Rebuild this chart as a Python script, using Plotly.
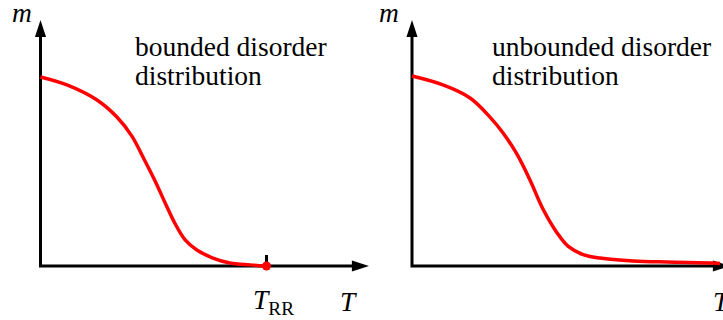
import plotly.graph_objects as go

# Order parameter m versus temperature T (T in units of T_RR, m in units of m(0))
T_bounded = [0.0, 0.117, 0.25, 0.338, 0.405, 0.454, 0.507, 0.551, 0.595, 0.639, 0.692,
             0.763, 0.838, 0.927, 1.0]
m_bounded = [1.0, 0.958, 0.878, 0.788, 0.686, 0.575, 0.45, 0.335, 0.225, 0.14, 0.085,
             0.042, 0.016, 0.006, 0.0]

T_unbounded = [0.0, 0.137, 0.257, 0.345, 0.403, 0.465, 0.522, 0.58, 0.642, 0.69, 0.757,
               0.832, 0.978, 1.128, 1.332, 1.363]
m_unbounded = [1.005, 0.958, 0.889, 0.788, 0.704, 0.59, 0.455, 0.3, 0.175, 0.105, 0.06,
               0.042, 0.027, 0.021, 0.016, 0.013]

T_RR = 1.0

panel_titles = [["bounded disorder", "distribution"],
                ["unbounded disorder", "distribution"]]

# geometry of the canvas
W, H = 723, 320
PX_T, PX_M = 226.0, 189.0          # pixels per unit of T and m
ORIGIN_Y = 266.0                    # pixel row of m = 0
ORIGIN_X = [40.5, 412.0]            # pixel column of T = 0 for each panel

y_range = [(ORIGIN_Y - H) / PX_M, ORIGIN_Y / PX_M]
x_ranges = [[-ox / PX_T, (W - ox) / PX_T] for ox in ORIGIN_X]

# axis arrow extents (in data units)
m_tip = (ORIGIN_Y - 20) / PX_M
T_tips = [(369 - ORIGIN_X[0]) / PX_T, (730 - ORIGIN_X[1]) / PX_T]
head_T = 10 / PX_T
head_m = 10 / PX_M

RED = "#ff0000"
BLACK = "#000000"
SERIF = "Liberation Serif"
FS = 27.5

fig = go.Figure()
curves = [(T_bounded, m_bounded), (T_unbounded, m_unbounded)]

for i, xa in enumerate(["x", "x2"]):
    # axes as an L-shaped polyline
    fig.add_trace(go.Scatter(
        x=[0, 0, T_tips[i] - head_T], y=[m_tip - head_m, 0, 0],
        xaxis=xa, yaxis="y", mode="lines",
        line=dict(color=BLACK, width=3), hoverinfo="skip", showlegend=False))
    # arrow heads
    fig.add_trace(go.Scatter(
        x=[0, T_tips[i]], y=[m_tip, 0], xaxis=xa, yaxis="y", mode="markers",
        marker=dict(symbol="arrow", size=18, angle=[0, 90], color=BLACK,
                    line=dict(width=0)),
        hoverinfo="skip", showlegend=False))

# tick at T_RR on the bounded panel
fig.add_trace(go.Scatter(
    x=[T_RR, T_RR], y=[0, 11 / PX_M], xaxis="x", yaxis="y", mode="lines",
    line=dict(color=BLACK, width=3), hoverinfo="skip", showlegend=False))

for i, xa in enumerate(["x", "x2"]):
    T, m = curves[i]
    fig.add_trace(go.Scatter(
        x=T, y=m, xaxis=xa, yaxis="y", mode="lines",
        line=dict(color=RED, width=3.5, shape="spline", smoothing=1.0),
        hoverinfo="skip", showlegend=False))

# point where the bounded curve reaches zero
fig.add_trace(go.Scatter(
    x=[T_RR], y=[0], xaxis="x", yaxis="y", mode="markers",
    marker=dict(color=RED, size=9, line=dict(width=0)),
    hoverinfo="skip", showlegend=False))

ann = []
text_x = [(133 - ORIGIN_X[0]) / PX_T, (490 - ORIGIN_X[1]) / PX_T]
line_y = [(ORIGIN_Y - 46) / PX_M, (ORIGIN_Y - 75) / PX_M]
for i, xa in enumerate(["x", "x2"]):
    for j, txt in enumerate(panel_titles[i]):
        ann.append(dict(x=text_x[i], y=line_y[j], xref=xa, yref="y", text=txt,
                        showarrow=False, xanchor="left", yanchor="middle",
                        font=dict(family=SERIF, size=FS, color=BLACK)))

m_label_x = [(22 - ORIGIN_X[0]) / PX_T, (389 - ORIGIN_X[1]) / PX_T]
for i, xa in enumerate(["x", "x2"]):
    ann.append(dict(x=m_label_x[i], y=(ORIGIN_Y - 12) / PX_M, xref=xa, yref="y",
                    text="<i>m</i>", showarrow=False, xanchor="center",
                    yanchor="middle", font=dict(family=SERIF, size=FS, color=BLACK)))

label_y = (ORIGIN_Y - 301) / PX_M
ann.append(dict(x=(273 - ORIGIN_X[0]) / PX_T, y=label_y, xref="x", yref="y",
                text="<i>T</i><sub>RR</sub>", showarrow=False, xanchor="center",
                yanchor="middle", font=dict(family=SERIF, size=FS, color=BLACK)))
ann.append(dict(x=(348.5 - ORIGIN_X[0]) / PX_T, y=label_y, xref="x", yref="y",
                text="<i>T</i>", showarrow=False, xanchor="center",
                yanchor="middle", font=dict(family=SERIF, size=FS, color=BLACK)))
ann.append(dict(x=(711 - ORIGIN_X[1]) / PX_T, y=label_y, xref="x2", yref="y",
                text="<i>T</i>", showarrow=False, xanchor="left",
                yanchor="middle", font=dict(family=SERIF, size=FS, color=BLACK)))

axis_off = dict(visible=False, showgrid=False, zeroline=False, fixedrange=True)
fig.update_layout(
    width=W, height=H,
    margin=dict(l=0, r=0, t=0, b=0, pad=0),
    paper_bgcolor="white", plot_bgcolor="white",
    xaxis=dict(domain=[0, 1], range=x_ranges[0], **axis_off),
    xaxis2=dict(domain=[0, 1], range=x_ranges[1], overlaying="x", anchor="y", **axis_off),
    yaxis=dict(domain=[0, 1], range=y_range, **axis_off),
    annotations=ann,
    showlegend=False,
)

fig.write_html("out.html", config={"displayModeBar": False})
